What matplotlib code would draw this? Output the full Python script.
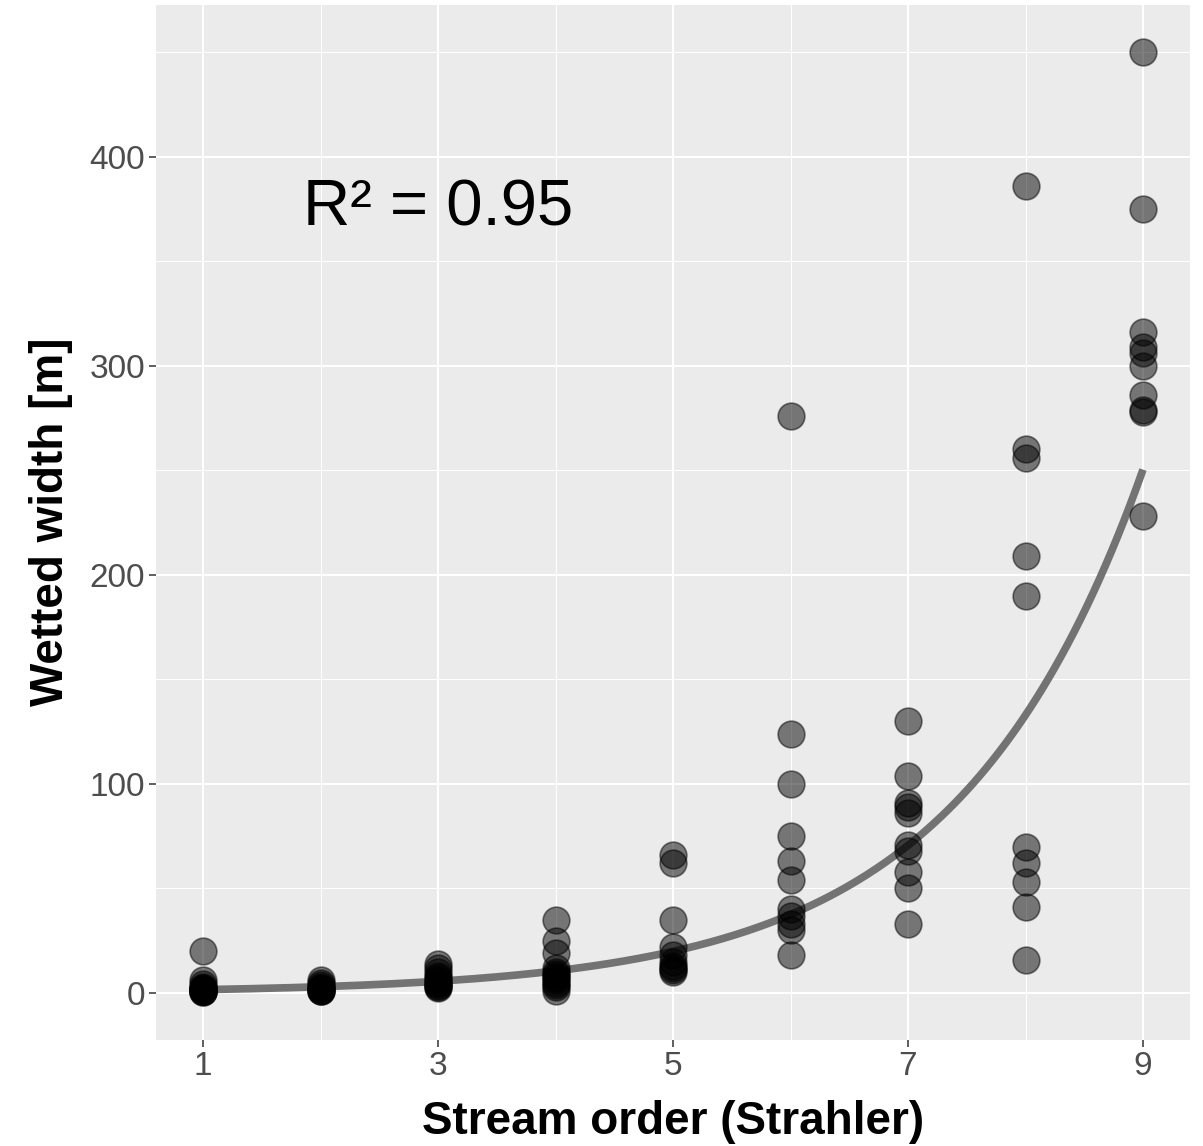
import numpy as np
import matplotlib
matplotlib.use("Agg")
import matplotlib.pyplot as plt

plt.rcParams['font.family'] = ['Liberation Sans', 'DejaVu Sans']

# Data: wetted width [m] by Strahler stream order
order_1 = [20, 6, 4.5, 3, 2.5, 2, 1.5, 1.2, 1, 0.8, 0.5, 0.5, 2, 1]
order_2 = [6, 5, 4, 3, 2.5, 2, 1.5, 1, 1, 0.8]
order_3 = [14, 12, 10, 8, 7, 6, 5, 4, 3.5, 3, 2.5, 5]
order_4 = [35, 25, 19, 12, 10, 9, 8, 7, 6, 5, 4, 3, 1]
order_5 = [66, 62, 35, 22, 18, 15, 13, 12, 11, 10]
order_6 = [276, 124, 100, 75, 63, 54, 40, 37, 33, 30, 18]
order_7 = [130, 104, 91, 89, 86, 71, 68, 58, 50, 33]
order_8 = [386, 260, 256, 209, 190, 70, 62, 53, 41, 16]
order_9 = [450, 375, 316, 309, 306, 300, 286, 279, 278, 228]
widths_by_order = [order_1, order_2, order_3, order_4, order_5,
                   order_6, order_7, order_8, order_9]

# Exponential fit parameters: width = a * exp(b * order)
fit_a = 0.84
fit_b = 0.633
r2_label = "R² = 0.95"

x_ticks = [1, 3, 5, 7, 9]
y_ticks = [0, 100, 200, 300, 400]

xs, ys = [], []
for i, vals in enumerate(widths_by_order, start=1):
    xs.extend([i] * len(vals))
    ys.extend(vals)
xs = np.array(xs, dtype=float)
ys = np.array(ys, dtype=float)

W, H = 1203, 1146
fig = plt.figure(figsize=(W / 100, H / 100), dpi=100)
ax = fig.add_axes([156 / W, 1 - 1040 / H, (1190 - 156) / W, (1040 - 5) / H])
ax.set_facecolor('#EBEBEB')
for s in ax.spines.values():
    s.set_visible(False)

ax.set_xlim(0.6, 9.4)
ax.set_ylim(-22.5, 472.5)
ax.set_xticks(x_ticks)
ax.set_yticks(y_ticks)
ax.set_xticks([2, 4, 6, 8], minor=True)
ax.set_yticks([50, 150, 250, 350, 450], minor=True)
ax.grid(which='major', color='white', linewidth=1.5)
ax.grid(which='minor', color='white', linewidth=0.75)
ax.set_axisbelow(True)
ax.tick_params(which='major', length=5, width=1.1, color='#333333',
               labelsize=24, labelcolor='#4D4D4D', pad=3)
ax.tick_params(which='minor', length=0)

xc = np.linspace(1, 9, 300)
ax.plot(xc, fit_a * np.exp(fit_b * xc), color='#737373', linewidth=5.5,
        solid_capstyle='butt', zorder=2)

ax.scatter(xs, ys, s=370, facecolor=(0, 0, 0, 0.5), edgecolor=(0, 0, 0, 0.5),
           linewidth=1.2, zorder=3)

ax.text(3, 375, r2_label, fontsize=47, ha='center', va='center', color='black')

fig.text((156 + 1190) / 2 / W, 1 - 1122 / H, "Stream order (Strahler)",
         fontsize=33, fontweight='bold', ha='center', va='center')
fig.text(51 / W, 1 - 522 / H, "Wetted width [m]", fontsize=33,
         fontweight='bold', ha='center', va='center', rotation=90)

fig.savefig('out.png', dpi=100)
